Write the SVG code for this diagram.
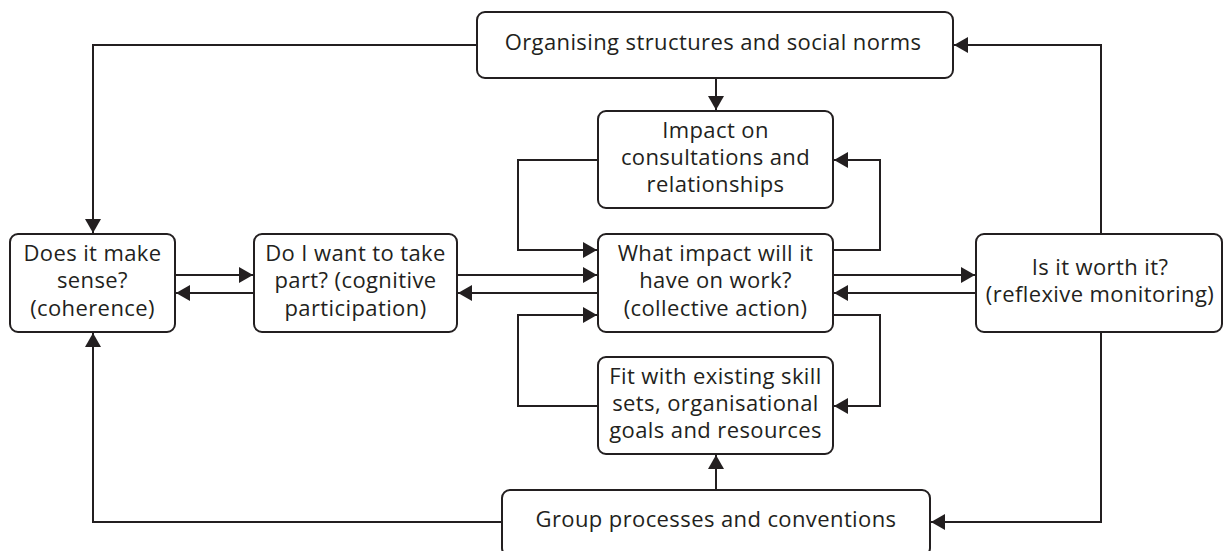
<svg xmlns="http://www.w3.org/2000/svg" width="1225" height="551" viewBox="0 0 1225 551">
<style>
.box{fill:#fff;stroke:#231f20;stroke-width:2}
.ln{fill:none;stroke:#231f20;stroke-width:2;marker-end:url(#ah)}
text{font-family:"Open Sans","Noto Sans","Liberation Sans",sans-serif;font-size:22px;letter-spacing:0.4px;fill:#231f20;text-anchor:middle}
</style>
<defs>
<marker id="ah" markerUnits="userSpaceOnUse" markerWidth="14" markerHeight="16" refX="14" refY="8" orient="auto" viewBox="0 0 14 16">
<path d="M0,0 L14,8 L0,16 z" fill="#231f20"/>
</marker>
</defs>
<rect width="1225" height="551" fill="#fff"/>
<g id="connectors">
<path class="ln" d="M477,45 H93 V233"/>
<path class="ln" d="M716,78 V110"/>
<path class="ln" d="M1101,234 V45 H954"/>
<path class="ln" d="M1101,332 V522 H931"/>
<path class="ln" d="M502,522 H93 V333"/>
<path class="ln" d="M716,490 V455"/>
<path class="ln" d="M598,160 H518 V250 H597"/>
<path class="ln" d="M833,250 H880 V160 H834"/>
<path class="ln" d="M598,406 H518 V315 H597"/>
<path class="ln" d="M833,315 H880 V406 H834"/>
<path class="ln" d="M175,275 H253"/>
<path class="ln" d="M254,293 H176"/>
<path class="ln" d="M457,275 H597"/>
<path class="ln" d="M598,293 H458"/>
<path class="ln" d="M833,275 H975"/>
<path class="ln" d="M976,293 H834"/>
</g>
<g id="organising">
<rect class="box" x="477" y="12" width="476" height="66" rx="8"/>
<text x="713" y="50">Organising structures and social norms</text>
</g>
<g id="impact">
<rect class="box" x="598" y="111" width="235" height="97" rx="8"/>
<text x="715.5" y="137.7">Impact on</text>
<text x="715.5" y="165">consultations and</text>
<text x="715.5" y="192.3">relationships</text>
</g>
<g id="sense">
<rect class="box" x="10" y="234" width="165" height="98" rx="8"/>
<text x="92.5" y="261">Does it make</text>
<text x="92.5" y="288.3">sense?</text>
<text x="92.5" y="315.6">(coherence)</text>
</g>
<g id="takepart">
<rect class="box" x="254" y="234" width="203" height="98" rx="8"/>
<text x="355.5" y="261">Do I want to take</text>
<text x="355.5" y="288.3">part? (cognitive</text>
<text x="355.5" y="315.6">participation)</text>
</g>
<g id="work">
<rect class="box" x="598" y="234" width="235" height="98" rx="8"/>
<text x="715.5" y="261">What impact will it</text>
<text x="715.5" y="288.3">have on work?</text>
<text x="715.5" y="315.6">(collective action)</text>
</g>
<g id="worth">
<rect class="box" x="976" y="234" width="246" height="98" rx="8"/>
<text x="1100" y="274.5">Is it worth it?</text>
<text x="1100" y="301.8">(reflexive monitoring)</text>
</g>
<g id="fit">
<rect class="box" x="598" y="357" width="235" height="97" rx="8"/>
<text x="715.5" y="383.7">Fit with existing skill</text>
<text x="715.5" y="411">sets, organisational</text>
<text x="715.5" y="438.3">goals and resources</text>
</g>
<g id="group">
<rect class="box" x="502" y="490" width="428" height="66" rx="8"/>
<text x="716" y="527">Group processes and conventions</text>
</g>
</svg>
